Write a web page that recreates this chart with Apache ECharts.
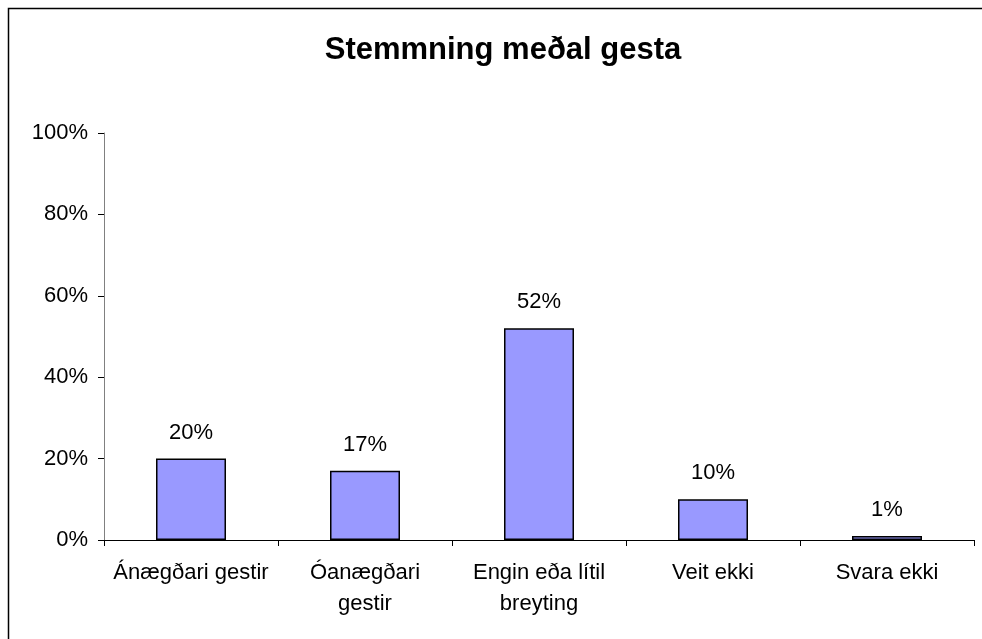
<!DOCTYPE html>
<html>
<head>
<meta charset="utf-8">
<script src="https://cdn.jsdelivr.net/npm/echarts@6/dist/echarts.min.js"></script>
<style>
  html, body { margin: 0; padding: 0; background: #fff; }
  #chart { width: 982px; height: 639px; }
</style>
</head>
<body>
<div id="chart"></div>
<script>
const chartTitle = 'Stemmning meðal gesta'
const categories = ['Ánægðari gestir', 'Óanægðari\ngestir', 'Engin eða lítil\nbreyting', 'Veit ekki', 'Svara ekki']
const values = [20, 17, 52, 10, 1]
const yTicks = [0, 20, 40, 60, 80, 100]

const font = 'Arial, "Liberation Sans", sans-serif'
const chart = echarts.init(document.getElementById('chart'))

chart.setOption({
  animation: false,
  backgroundColor: '#fff',
  title: {
    text: chartTitle,
    left: 498,
    top: 30,
    textAlign: 'center',
    textStyle: { fontFamily: font, fontSize: 31, fontWeight: 'bold', color: '#000' }
  },
  graphic: [{
    type: 'rect',
    shape: { x: 8.5, y: 8.5, width: 1100, height: 800 },
    style: { fill: 'none', stroke: '#000', lineWidth: 1.5 },
    silent: true
  }],
  grid: { left: 104, right: 8, top: 133, bottom: 99 },
  xAxis: {
    type: 'category',
    data: categories,
    axisLine: { lineStyle: { color: '#000', width: 1 } },
    axisTick: { show: true, length: 6, inside: false, lineStyle: { color: '#000' } },
    axisLabel: {
      interval: 0,
      margin: 17,
      fontFamily: font,
      fontSize: 22,
      lineHeight: 31,
      color: '#000'
    },
    splitLine: { show: false }
  },
  yAxis: {
    type: 'value',
    min: yTicks[0],
    max: yTicks[yTicks.length - 1],
    interval: 20,
    axisLine: { show: true, lineStyle: { color: '#808080', width: 1 } },
    axisTick: { show: true, length: 6, lineStyle: { color: '#000' } },
    axisLabel: {
      formatter: '{value}%',
      margin: 16,
      fontFamily: font,
      fontSize: 22,
      color: '#000'
    },
    splitLine: { show: false }
  },
  series: [{
    type: 'bar',
    data: values,
    barWidth: 70,
    itemStyle: { color: '#9999FF', borderColor: '#000', borderWidth: 1.5 },
    label: {
      show: true,
      position: 'top',
      distance: 15,
      formatter: '{c}%',
      fontFamily: font,
      fontSize: 22,
      color: '#000'
    }
  }]
})
</script>
</body>
</html>
